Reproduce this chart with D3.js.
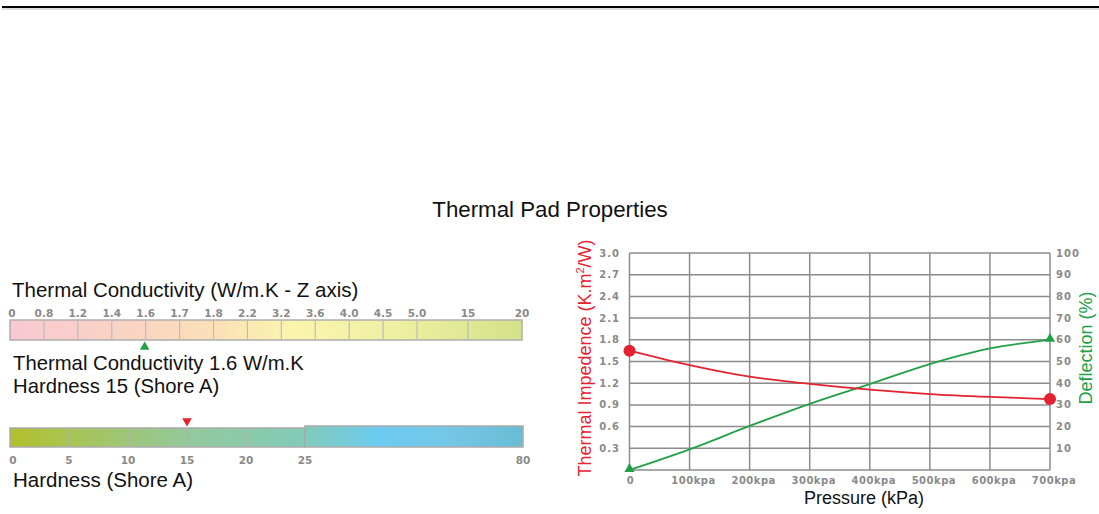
<!DOCTYPE html>
<html><head><meta charset="utf-8">
<script src="https://cdn.jsdelivr.net/npm/d3@7/dist/d3.min.js"></script>
<style>
html,body{margin:0;padding:0;background:#fff;}
svg{display:block;}
</style></head>
<body>
<svg id="c" width="1099" height="514"></svg>
<script>
// ---- data ----
const chartTitle = "Thermal Pad Properties";
const condLabels = ["0","0.8","1.2","1.4","1.6","1.7","1.8","2.2","3.2","3.6","4.0","4.5","5.0","15","20"];
const condValue = "1.6";
const hardTicks = [0,5,10,15,20,25,80];
const hardValue = 15;
const pressure = [0,100,200,300,400,500,600,700];
const impedance = [1.65,1.45,1.29,1.19,1.11,1.05,1.01,0.98];
const deflection = [0,9.5,20.3,30.5,39.6,48.8,56,60];
const yLeftTicks = [0.3,0.6,0.9,1.2,1.5,1.8,2.1,2.4,2.7,3.0];
const yRightTicks = [10,20,30,40,50,60,70,80,90,100];
const xTickLabels = ["0","100kpa","200kpa","300kpa","400kpa","500kpa","600kpa","700kpa"];

const svg = d3.select("#c");
const sans = "'Liberation Sans', Arial, sans-serif";
const tickFont = "'DejaVu Sans', Verdana, sans-serif";
const tickCol = "#8a8a8a";
const RED = "#e52330", GREEN = "#22a047";

// top rule
svg.append("line").attr("x1",2).attr("x2",1099).attr("y1",7).attr("y2",7)
  .attr("stroke","#000").attr("stroke-width",2);
svg.append("line").attr("x1",2).attr("x2",1099).attr("y1",9).attr("y2",9)
  .attr("stroke","#bbb").attr("stroke-width",1);

// title
svg.append("text").attr("x",550).attr("y",217).attr("text-anchor","middle")
  .style("font-family",sans).style("font-size","22.3px").attr("fill","#111").text(chartTitle);

const defs = svg.append("defs");
const g1 = defs.append("linearGradient").attr("id","condGrad").attr("x1","0%").attr("x2","100%");
[["0%","#f9c8d3"],["25%","#f9d5c2"],["42%","#fbe2b6"],["55%","#fbf5ae"],["75%","#eef0a2"],["100%","#d4e289"]]
  .forEach(s=>g1.append("stop").attr("offset",s[0]).attr("stop-color",s[1]));
const g2 = defs.append("linearGradient").attr("id","hardGrad").attr("gradientUnits","userSpaceOnUse")
  .attr("x1",10).attr("x2",523);
[["0%","#b1bf2a"],["12%","#a8c555"],["25%","#9cc67e"],["35%","#93c99c"],["57%","#82cbb8"],["72%","#6ccbf2"],["85%","#74c7e6"],["100%","#68bdd5"]]
  .forEach(s=>g2.append("stop").attr("offset",s[0]).attr("stop-color",s[1]));

// ---- conductivity bar ----
const cx = d3.scaleLinear().domain([0,12,13,14]).range([10,417,468,522]);
const condTop = 320, condBot = 340;
svg.append("text").attr("x",12).attr("y",297).style("font-family",sans).style("font-size","20.5px")
  .attr("fill","#111").text("Thermal Conductivity (W/m.K - Z axis)");
svg.append("rect").attr("x",cx(0)).attr("y",condTop).attr("width",cx(14)-cx(0)).attr("height",condBot-condTop)
  .attr("fill","url(#condGrad)").attr("stroke","#aeaeae").attr("stroke-width",1.5);
svg.selectAll(".cdiv").data(d3.range(1,14)).join("line")
  .attr("x1",d=>cx(d)).attr("x2",d=>cx(d)).attr("y1",condTop).attr("y2",condBot)
  .attr("stroke","#bcbcbc").attr("stroke-width",1.2);
svg.selectAll(".clab").data(condLabels).join("text")
  .attr("x",(d,i)=> i===0 ? cx(i)+2 : cx(i)).attr("y",317).attr("text-anchor","middle")
  .style("font-family",tickFont).style("font-size","10.5px").style("font-weight","bold")
  .attr("fill",tickCol).text(d=>d);
const ci = condLabels.indexOf(condValue);
svg.append("path").attr("d",d3.symbol(d3.symbolTriangle,40)())
  .attr("transform",`translate(${cx(ci)-1},${347})`).attr("fill",GREEN);

svg.append("text").attr("x",13).attr("y",370).style("font-family",sans).style("font-size","20.3px")
  .attr("fill","#111").text("Thermal Conductivity 1.6 W/m.K");
svg.append("text").attr("x",13).attr("y",393).style("font-family",sans).style("font-size","20.3px")
  .attr("fill","#111").text("Hardness 15 (Shore A)");

// ---- hardness bar ----
const hx = d3.scaleLinear().domain([0,25,80]).range([10,305,523]);
const hTop = 428, hBot = 447;
svg.append("rect").attr("x",hx(0)).attr("y",hTop).attr("width",hx(25)-hx(0)).attr("height",hBot-hTop)
  .attr("fill","url(#hardGrad)").attr("stroke","#aaa").attr("stroke-width",1.5);
svg.append("rect").attr("x",hx(25)).attr("y",hTop-2).attr("width",hx(80)-hx(25)).attr("height",hBot-hTop+2)
  .attr("fill","url(#hardGrad)").attr("stroke","#aaa").attr("stroke-width",1.5);
svg.selectAll(".hdiv").data(hardTicks.slice(1,5)).join("line")
  .attr("x1",d=>hx(d)).attr("x2",d=>hx(d)).attr("y1",hTop).attr("y2",hBot)
  .attr("stroke","#b0b0b0").attr("stroke-width",1.2);
svg.selectAll(".hlab").data(hardTicks).join("text")
  .attr("x",d=> d===0 ? hx(d)+3 : hx(d)).attr("y",464).attr("text-anchor","middle")
  .style("font-family",tickFont).style("font-size","10.5px").style("font-weight","bold")
  .attr("fill",tickCol).text(d=>d);
svg.append("path").attr("d",d3.symbol(d3.symbolTriangle,40)())
  .attr("transform",`translate(${hx(hardValue)},${421}) rotate(180)`).attr("fill",RED);
svg.append("text").attr("x",13).attr("y",487).style("font-family",sans).style("font-size","20.5px")
  .attr("fill","#111").text("Hardness (Shore A)");

// ---- line chart ----
const x = d3.scaleLinear().domain([0,700]).range([629.5,1050]);
const yL = d3.scaleLinear().domain([0,3]).range([470,253]);
const yR = d3.scaleLinear().domain([0,100]).range([470,253]);
const grid = svg.append("g");
grid.selectAll(".hg").data([0].concat(yLeftTicks)).join("line")
  .attr("x1",x(0)).attr("x2",x(700)).attr("y1",d=>yL(d)).attr("y2",d=>yL(d))
  .attr("stroke","#8c8c8c").attr("stroke-width",1.5);
grid.selectAll(".vg").data(pressure).join("line")
  .attr("x1",d=>x(d)).attr("x2",d=>x(d)).attr("y1",yL(0)).attr("y2",yL(3))
  .attr("stroke","#8c8c8c").attr("stroke-width",1.5);

svg.selectAll(".yl").data(yLeftTicks).join("text")
  .attr("x",620).attr("y",d=>yL(d)).attr("dy","0.35em").attr("text-anchor","end")
  .style("font-family",tickFont).style("font-size","10px").style("font-weight","bold")
  .style("letter-spacing","1px").attr("fill",tickCol).text(d=>d.toFixed(1));
svg.selectAll(".yr").data(yRightTicks).join("text")
  .attr("x",1056).attr("y",d=>yR(d)).attr("dy","0.35em").attr("text-anchor","start")
  .style("font-family",tickFont).style("font-size","10px").style("font-weight","bold")
  .style("letter-spacing","1px").attr("fill",tickCol).text(d=>d);
svg.selectAll(".xl").data(pressure).join("text")
  .attr("x",(d,i)=> x(d)+ (i===0?1:4)).attr("y",484).attr("text-anchor","middle")
  .style("font-family",tickFont).style("font-size","10px").style("font-weight","bold")
  .style("letter-spacing","0.5px").attr("fill",tickCol).text((d,i)=>xTickLabels[i]);

const lineL = d3.line().x((d,i)=>x(pressure[i])).y(d=>yL(d)).curve(d3.curveMonotoneX);
const lineR = d3.line().x((d,i)=>x(pressure[i])).y(d=>yR(d)).curve(d3.curveMonotoneX);
svg.append("path").attr("d",lineR(deflection)).attr("fill","none").attr("stroke",GREEN).attr("stroke-width",1.8);
svg.append("path").attr("d",lineL(impedance)).attr("fill","none").attr("stroke",RED).attr("stroke-width",1.8);

const ends = [0, pressure.length-1];
svg.selectAll(".rdot").data(ends).join("circle")
  .attr("cx",i=>x(pressure[i])).attr("cy",i=>yL(impedance[i])).attr("r",6).attr("fill",RED);
svg.selectAll(".gtri").data(ends).join("path")
  .attr("d",d3.symbol(d3.symbolTriangle,45)())
  .attr("transform",i=>`translate(${x(pressure[i])},${yR(deflection[i])-1})`).attr("fill",GREEN);

// axis titles
svg.append("text").attr("transform","translate(591,358) rotate(-90)").attr("text-anchor","middle")
  .style("font-family",sans).style("font-size","18px").attr("fill",RED)
  .html('Thermal Impedence (K.m<tspan dy="-7" font-size="11px">2</tspan><tspan dy="7">/W)</tspan>');
svg.append("text").attr("transform","translate(1092,348) rotate(-90)").attr("text-anchor","middle")
  .style("font-family",sans).style("font-size","18px").attr("fill",GREEN).text("Deflection (%)");
svg.append("text").attr("x",864).attr("y",504).attr("text-anchor","middle")
  .style("font-family",sans).style("font-size","18px").attr("fill","#111").text("Pressure (kPa)");
</script>
</body></html>
